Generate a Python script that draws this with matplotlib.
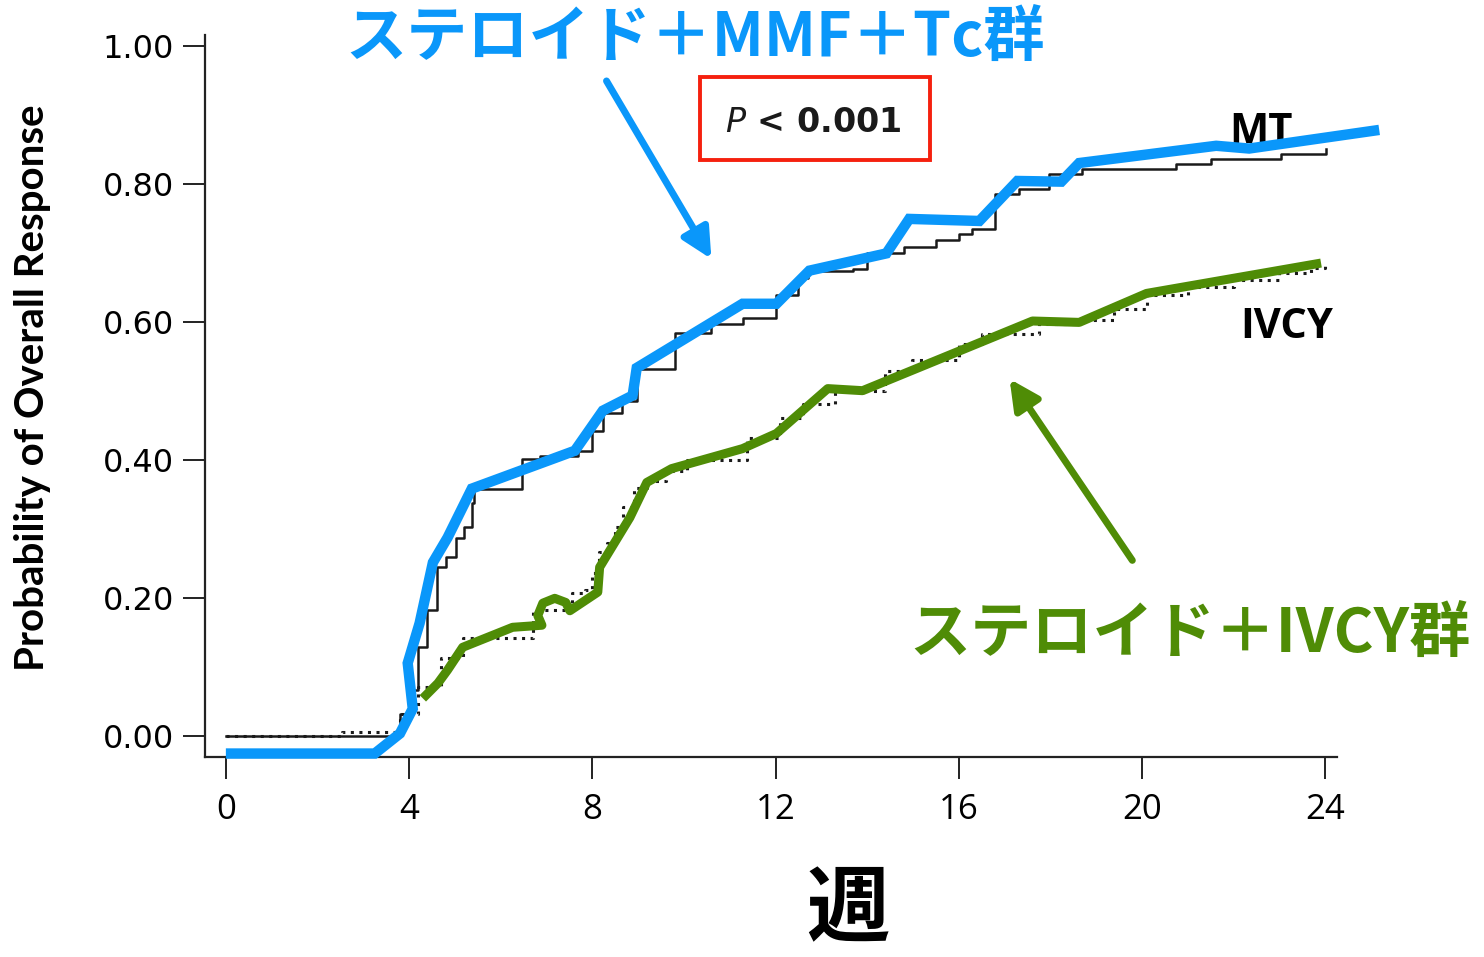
import matplotlib
matplotlib.use("Agg")
import matplotlib.pyplot as plt
from matplotlib.patches import Rectangle

# Kaplan-Meier step curves (weeks, cumulative probability of response)
mt_weeks = [0, 3.80, 4.05, 4.19, 4.39, 4.60, 4.81, 5.02, 5.20, 5.37, 5.42, 6.46, 6.85,
            7.68, 8.00, 8.23, 8.64, 8.97, 9.80, 10.60, 11.28, 12.00, 12.50, 12.70, 13.70,
            14.00, 14.80, 15.50, 16.00, 16.30, 16.80, 17.32, 17.98, 18.70, 20.75, 21.51,
            23.04, 24.02]
mt_prob = [0.0, 0.033, 0.067, 0.129, 0.183, 0.245, 0.260, 0.288, 0.303, 0.338, 0.359,
           0.402, 0.406, 0.414, 0.443, 0.469, 0.486, 0.533, 0.584, 0.598, 0.606, 0.640,
           0.664, 0.674, 0.678, 0.700, 0.710, 0.720, 0.728, 0.735, 0.786, 0.794, 0.815,
           0.823, 0.830, 0.837, 0.844, 0.851]

ivcy_weeks = [0, 2.54, 3.80, 4.20, 4.70, 5.17, 6.70, 7.56, 7.85, 8.00, 8.15, 8.33, 8.50,
              8.66, 8.90, 9.20, 9.60, 10.06, 11.37, 12.09, 12.60, 13.30, 14.40, 14.97,
              16.00, 16.50, 17.75, 18.63, 19.40, 20.10, 21.00, 22.00, 23.00, 23.70, 24.00]
ivcy_prob = [0.0, 0.006, 0.033, 0.071, 0.114, 0.143, 0.183, 0.207, 0.212, 0.236, 0.267,
             0.280, 0.303, 0.332, 0.360, 0.370, 0.385, 0.400, 0.433, 0.462, 0.482, 0.500,
             0.530, 0.545, 0.568, 0.583, 0.597, 0.603, 0.620, 0.640, 0.652, 0.662, 0.672,
             0.679, 0.686]

# Hand-traced highlight paths over each curve
mmf_weeks = [0.0, 3.25, 3.80, 4.08, 3.97, 4.23, 4.52, 4.84, 5.37, 7.62, 8.23, 8.88, 8.97,
             11.28, 12.02, 12.74, 14.42, 14.92, 16.45, 17.28, 18.24, 18.63, 21.62, 22.34,
             25.18]
mmf_prob = [-0.025, -0.025, 0.004, 0.040, 0.106, 0.164, 0.252, 0.288, 0.359, 0.414, 0.472,
            0.494, 0.534, 0.627, 0.627, 0.675, 0.700, 0.750, 0.747, 0.805, 0.804, 0.831,
            0.856, 0.852, 0.879]

cy_weeks = [4.30, 4.63, 4.84, 5.17, 6.26, 6.90, 6.81, 6.92, 7.18, 7.42, 7.51, 8.12, 8.16,
            8.82, 9.19, 9.73, 11.28, 12.02, 13.14, 13.90, 17.61, 18.63, 20.10, 23.91]
cy_prob = [0.055, 0.077, 0.096, 0.129, 0.158, 0.161, 0.175, 0.193, 0.200, 0.194, 0.182,
           0.209, 0.245, 0.317, 0.368, 0.388, 0.417, 0.439, 0.504, 0.501, 0.602, 0.600,
           0.642, 0.686]

x_ticks = [0, 4, 8, 12, 16, 20, 24]
y_ticks = [0.0, 0.2, 0.4, 0.6, 0.8, 1.0]
y_tick_labels = ["0.00", "0.20", "0.40", "0.60", "0.80", "1.00"]

BLUE = "#0A97FA"
GREEN = "#4F8C06"
CJK = ["Noto Sans CJK JP", "DejaVu Sans"]

plt.rcParams["mathtext.fontset"] = "dejavusans"

fig = plt.figure(figsize=(14.84, 9.57), dpi=100)
ax = fig.add_axes([0.138, 0.209, 0.763, 0.754])

ax.step(mt_weeks, mt_prob, where="post", color="#1a1a1a", lw=1.8, zorder=2)
ax.step(ivcy_weeks, ivcy_prob, where="post", color="#1a1a1a", lw=2.2,
        linestyle=(0, (1, 1.8)), zorder=2)

ax.plot(mmf_weeks, mmf_prob, color=BLUE, lw=7.5, solid_capstyle="butt",
        solid_joinstyle="miter", clip_on=False, zorder=4)
ax.plot(cy_weeks, cy_prob, color=GREEN, lw=6.5, solid_capstyle="butt",
        solid_joinstyle="round", clip_on=False, zorder=3)

ax.set_xlim(-0.46, 24.26)
ax.set_ylim(-0.03, 1.016)
ax.set_xticks(x_ticks)
ax.set_yticks(y_ticks)
ax.set_yticklabels(y_tick_labels)
ax.spines["top"].set_visible(False)
ax.spines["right"].set_visible(False)
for s in ("left", "bottom"):
    ax.spines[s].set_linewidth(1.6)
    ax.spines[s].set_color("#222222")
ax.tick_params(axis="y", length=16, width=1.4, color="#222222", labelsize=23, pad=6)
ax.tick_params(axis="x", length=16, width=1.4, color="#222222", labelsize=25, pad=10)
for lab in ax.get_xticklabels():
    lab.set_fontfamily("Open Sans")
ax.set_ylabel("Probability of Overall Response", fontsize=29, fontfamily="Lato",
              fontweight="bold")
ax.yaxis.set_label_coords(-0.136, 0.512)

# Curve labels
ax.text(22.6, 0.875, "MT", fontsize=30, fontfamily="Open Sans", fontweight="bold",
        ha="center", va="center")
ax.text(23.15, 0.592, "IVCY", fontsize=30, fontfamily="Open Sans", fontweight="bold",
        ha="center", va="center")

# Group call-outs with arrows
ax.annotate("", xy=(10.6, 0.692), xytext=(8.31, 0.950), xycoords="data",
            arrowprops=dict(arrowstyle="-|>", color=BLUE, lw=5, mutation_scale=45,
                            shrinkA=0, shrinkB=0), annotation_clip=False)
ax.annotate("", xy=(17.11, 0.518), xytext=(19.79, 0.255), xycoords="data",
            arrowprops=dict(arrowstyle="-|>", color=GREEN, lw=5, mutation_scale=45,
                            shrinkA=0, shrinkB=0), annotation_clip=False)

fig.text(0.4685, 0.960, "ステロイド＋MMF＋Tc群", fontsize=44, fontweight="bold",
         family=CJK, color=BLUE, ha="center", va="center")
fig.text(0.802, 0.337, "ステロイド＋IVCY群", fontsize=44, fontweight="bold",
         family=CJK, color=GREEN, ha="center", va="center")

# P-value box
fig.patches.append(Rectangle((0.4717, 0.8328), 0.155, 0.0867, transform=fig.transFigure,
                             fill=False, edgecolor="#F5200E", lw=2.8))
fig.text(0.548, 0.8725, r"$P$ < 0.001", fontsize=24, fontweight="bold",
         color="#1a1a1a", ha="center", va="center")

fig.text(0.5715, 0.048, "週", fontsize=60, fontweight="bold", family=CJK,
         ha="center", va="center")

fig.savefig("out.png", dpi=100, facecolor="white")
